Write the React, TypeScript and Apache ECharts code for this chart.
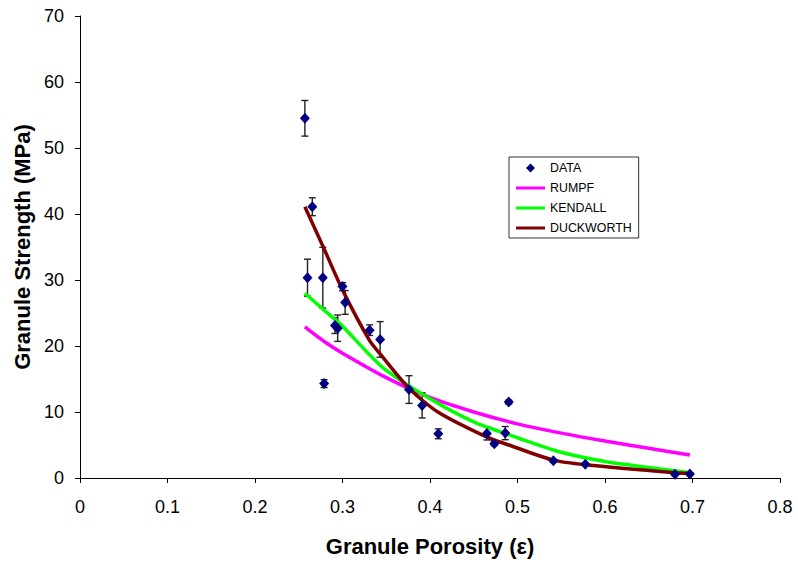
import React, { useEffect, useRef } from "react";
import * as echarts from "echarts";

const xTicks = ["0", "0.1", "0.2", "0.3", "0.4", "0.5", "0.6", "0.7", "0.8"];

const dataX = [0.257, 0.2655, 0.26, 0.2775, 0.3, 0.303, 0.2914, 0.2945, 0.279, 0.331, 0.343, 0.376, 0.391, 0.4095, 0.465, 0.4735, 0.486, 0.49, 0.541, 0.5775, 0.68, 0.697];
const dataY = [54.5, 41.1, 30.35, 30.35, 29.0, 26.6, 23.1, 22.7, 14.3, 22.4, 21.0, 13.4, 11.0, 6.7, 6.76, 5.2, 6.8, 11.5, 2.6, 2.1, 0.55, 0.6];
const dataErr = [2.7, 1.35, 2.8, 4.6, 0.6, 1.8, 1.2, 2.0, 0.6, 0.8, 2.7, 2.1, 1.9, 0.75, 1.0, 0.3, 1.0, 0.3, 0.2, 0.2, 0.2, 0.2];

const rumpfX = [0.257, 0.28, 0.3, 0.35, 0.4, 0.45, 0.5, 0.55, 0.6, 0.65, 0.697];
const rumpfY = [22.9, 20.6, 18.9, 15.2, 12.2, 10.0, 8.2, 6.8, 5.6, 4.5, 3.5];

const kendallX = [0.257, 0.28, 0.3, 0.33, 0.35, 0.4, 0.45, 0.5, 0.55, 0.6, 0.65, 0.697];
const kendallY = [28.0, 25.3, 23.0, 18.8, 16.3, 12.0, 8.5, 6.1, 3.9, 2.5, 1.6, 0.8];

const duckX = [0.257, 0.278, 0.3, 0.331, 0.343, 0.376, 0.409, 0.465, 0.49, 0.541, 0.578, 0.68, 0.697];
const duckY = [41.1, 35.0, 28.5, 20.8, 18.8, 13.6, 10.0, 6.2, 5.0, 2.7, 2.0, 0.8, 0.7];

const FONT = "Arial, 'Liberation Sans', sans-serif";
const LINE_ICON = "path://M0,0 L29,0 L29,3 L0,3 Z";
const DIAMOND_ICON = "path://M5,0 L10,5 L5,10 L0,5 Z";

export default function App() {
  const ref = useRef<HTMLDivElement>(null);
  useEffect(() => {
    if (!ref.current) return;
    const chart = echarts.init(ref.current, null, { renderer: "svg" });
    const zip = (xs: number[], ys: number[]) => xs.map((x, i) => [x, ys[i]]);
    chart.setOption({
      animation: false,
      backgroundColor: "#fff",
      grid: { left: 80, right: 18, top: 16, bottom: 84 },
      legend: {
        orient: "vertical",
        left: 509,
        top: 157,
        padding: [4, 7, 3, 7],
        itemWidth: 29,
        itemHeight: 9,
        itemGap: 6,
        borderColor: "#333",
        borderWidth: 1,
        textStyle: { fontFamily: FONT, fontSize: 12.4, color: "#000", lineHeight: 14 },
        data: [
          { name: "DATA", icon: DIAMOND_ICON, itemStyle: { color: "#000080" } },
          { name: "RUMPF", icon: LINE_ICON },
          { name: "KENDALL", icon: LINE_ICON },
          { name: "DUCKWORTH", icon: LINE_ICON },
        ],
      },
      xAxis: {
        type: "value",
        min: 0,
        max: 0.8,
        interval: 0.1,
        name: "Granule Porosity (ε)",
        nameLocation: "middle",
        nameGap: 57,
        nameTextStyle: { fontFamily: FONT, fontSize: 22, fontWeight: "bold", color: "#000" },
        splitLine: { show: false },
        axisLine: { lineStyle: { color: "#000", width: 1 } },
        axisTick: { show: true, length: 5, lineStyle: { color: "#000" } },
        axisLabel: {
          fontFamily: FONT,
          fontSize: 18,
          color: "#000",
          margin: 20,
          formatter: (v: number) => xTicks[Math.round(v * 10)] ?? String(v),
        },
      },
      yAxis: {
        type: "value",
        min: 0,
        max: 70,
        interval: 10,
        name: "Granule Strength (MPa)",
        nameLocation: "middle",
        nameGap: 47,
        nameTextStyle: { fontFamily: FONT, fontSize: 22, fontWeight: "bold", color: "#000" },
        splitLine: { show: false },
        axisLine: { show: true, lineStyle: { color: "#000", width: 1 } },
        axisTick: { show: true, length: 5, lineStyle: { color: "#000" } },
        axisLabel: { fontFamily: FONT, fontSize: 18, color: "#000", margin: 16 },
      },
      series: [
        {
          type: "custom",
          name: "err",
          silent: true,
          z: 1,
          encode: { x: 0, y: 1 },
          data: dataX.map((x, i) => [x, dataY[i], dataErr[i]]),
          renderItem: (params: any, api: any) => {
            const x = api.value(0);
            const y = api.value(1);
            const e = api.value(2);
            const t = api.coord([x, y + e]);
            const b = api.coord([x, y - e]);
            const w = 3.5;
            const st = { stroke: "#222", lineWidth: 1.4 };
            return {
              type: "group",
              children: [
                { type: "line", shape: { x1: t[0], y1: t[1], x2: b[0], y2: b[1] }, style: st },
                { type: "line", shape: { x1: t[0] - w, y1: t[1], x2: t[0] + w, y2: t[1] }, style: st },
                { type: "line", shape: { x1: b[0] - w, y1: b[1], x2: b[0] + w, y2: b[1] }, style: st },
              ],
            };
          },
        },
        {
          type: "line",
          name: "RUMPF",
          z: 2,
          symbol: "none",
          smooth: 0.3,
          data: zip(rumpfX, rumpfY),
          lineStyle: { color: "#FF00FF", width: 3.5 },
          itemStyle: { color: "#FF00FF" },
        },
        {
          type: "line",
          name: "KENDALL",
          z: 2,
          symbol: "none",
          smooth: 0.3,
          data: zip(kendallX, kendallY),
          lineStyle: { color: "#00FF00", width: 3.5 },
          itemStyle: { color: "#00FF00" },
        },
        {
          type: "line",
          name: "DUCKWORTH",
          z: 2,
          symbol: "none",
          smooth: 0.25,
          data: zip(duckX, duckY),
          lineStyle: { color: "#800000", width: 3.5 },
          itemStyle: { color: "#800000" },
        },
        {
          type: "scatter",
          name: "DATA",
          z: 3,
          symbol: "diamond",
          symbolSize: [10, 11],
          data: zip(dataX, dataY),
          itemStyle: { color: "#000080", opacity: 1 },
        },
      ],
    });
    return () => chart.dispose();
  }, []);
  return <div ref={ref} style={{ position: "fixed", left: 0, top: 0, width: 798, height: 562 }} />;
}
